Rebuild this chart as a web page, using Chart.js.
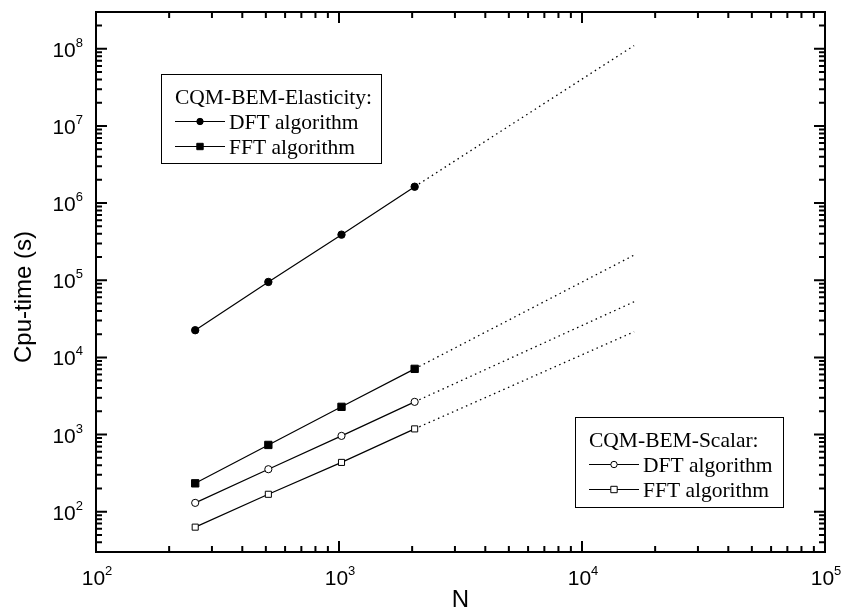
<!DOCTYPE html>
<html>
<head>
<meta charset="utf-8">
<script src="https://cdn.jsdelivr.net/npm/chart.js@4/dist/chart.umd.min.js"></script>
<style>
  html, body { margin: 0; padding: 0; background: #fff; }
  #wrap { width: 844px; height: 612px; }
</style>
</head>
<body>
<div id="wrap"><canvas id="c" width="844" height="612"></canvas></div>
<script>
// Problem sizes N and measured CPU times (seconds)
const sizes = [256, 512, 1024, 2048];
const elasticityDFT = [22500, 95000, 390000, 1630000];
const elasticityFFT = [233, 733, 2285, 7100];
const scalarDFT = [130, 355, 960, 2650];
const scalarFFT = [63, 168, 435, 1183];

// Extrapolated trend from the last measured size
const extrapSizes = [2048, 16384];
const elasticityDFTExt = [1630000, 110000000];
const elasticityFFTExt = [7100, 212000];
const scalarDFTExt = [2650, 52600];
const scalarFFTExt = [1183, 21500];

// Axis ranges and decade labels (powers of ten)
const xRange = [100, 100000];
const yRange = [30, 300000000];
const xTickExponents = [2, 3, 4, 5];
const yTickExponents = [2, 3, 4, 5, 6, 7, 8];
const xTitle = 'N';
const yTitle = 'Cpu-time (s)';

// Legend groups
const legendTitles = ['CQM-BEM-Elasticity:', 'CQM-BEM-Scalar:'];
const legendItems = [['DFT algorithm', 'FFT algorithm'], ['DFT algorithm', 'FFT algorithm']];

const pts = (xs, ys) => xs.map((x, i) => ({ x, y: ys[i] }));

const solid = (label, values, style, filled, radius) => ({
  label,
  data: pts(sizes, values),
  borderColor: '#000',
  borderWidth: 1.2,
  pointStyle: style,
  pointRadius: radius,
  pointHoverRadius: radius,
  pointBackgroundColor: filled ? '#000' : '#fff',
  pointBorderColor: '#000',
  pointBorderWidth: 1,
  tension: 0,
  order: 1
});

const dotted = (values) => ({
  label: '',
  data: pts(extrapSizes, values),
  borderColor: '#000',
  borderWidth: 1.3,
  borderDash: [1.5, 3.6],
  pointRadius: 0,
  pointHoverRadius: 0,
  tension: 0,
  order: 2
});

const SANS = '"Liberation Sans", Arial, sans-serif';
const SERIF = '"Liberation Serif", "Times New Roman", serif';

// Boxed frame with inward ticks on all four sides, decade labels and axis titles
const frameAxes = {
  id: 'frameAxes',
  afterDraw(chart) {
    const { ctx, chartArea: a, scales: { x, y } } = chart;
    ctx.save();
    ctx.strokeStyle = '#000';
    ctx.lineWidth = 2;
    ctx.lineCap = 'butt';
    ctx.strokeRect(a.left, a.top, a.right - a.left, a.bottom - a.top);

    const major = 11, minor = 6;
    ctx.beginPath();
    const eachTick = (scale, cb) => {
      const e0 = Math.floor(Math.log10(scale.min)), e1 = Math.ceil(Math.log10(scale.max));
      for (let e = e0; e <= e1; e++) {
        for (let m = 1; m <= 9; m++) {
          const v = m * Math.pow(10, e);
          if (v < scale.min * 0.999 || v > scale.max * 1.001) continue;
          cb(scale.getPixelForValue(v), m === 1 ? major : minor);
        }
      }
    };
    eachTick(x, (px, len) => {
      ctx.moveTo(px, a.bottom); ctx.lineTo(px, a.bottom - len);
      ctx.moveTo(px, a.top); ctx.lineTo(px, a.top + len);
    });
    eachTick(y, (py, len) => {
      ctx.moveTo(a.left, py); ctx.lineTo(a.left + len, py);
      ctx.moveTo(a.right, py); ctx.lineTo(a.right - len, py);
    });
    ctx.stroke();

    ctx.fillStyle = '#000';
    const baseFont = '21px ' + SANS, expFont = '13px ' + SANS;
    ctx.textAlign = 'left';
    ctx.textBaseline = 'alphabetic';
    xTickExponents.forEach(e => {
      const px = x.getPixelForValue(Math.pow(10, e));
      ctx.font = baseFont; const w1 = ctx.measureText('10').width;
      ctx.font = expFont; const w2 = ctx.measureText(String(e)).width;
      const left = px - (w1 + w2) / 2 + 1;
      ctx.font = baseFont; ctx.fillText('10', left, a.bottom + 33);
      ctx.font = expFont; ctx.fillText(String(e), left + w1, a.bottom + 23);
    });
    yTickExponents.forEach(e => {
      const py = y.getPixelForValue(Math.pow(10, e));
      ctx.font = baseFont; const w1 = ctx.measureText('10').width;
      ctx.font = expFont; const w2 = ctx.measureText(String(e)).width;
      const right = a.left - 13;
      ctx.font = expFont; ctx.fillText(String(e), right - w2, py - 2);
      ctx.font = baseFont; ctx.fillText('10', right - w2 - w1, py + 8);
    });

    ctx.font = '24px ' + SANS;
    ctx.textAlign = 'center';
    ctx.textBaseline = 'middle';
    ctx.fillText(xTitle, (a.left + a.right) / 2, 600);
    ctx.save();
    ctx.translate(24, 297);
    ctx.rotate(-Math.PI / 2);
    ctx.fillText(yTitle, 0, 0);
    ctx.restore();
    ctx.restore();
  }
};

// Two boxed legends, each with a heading line and two series rows
const boxedLegends = {
  id: 'boxedLegends',
  afterDraw(chart, args, opts) {
    const { ctx } = chart;
    const ds = chart.data.datasets;
    opts.boxes.forEach((b, gi) => {
      ctx.save();
      ctx.fillStyle = '#fff';
      ctx.fillRect(b.x, b.y, b.w, b.h);
      ctx.strokeStyle = '#000';
      ctx.lineWidth = 1;
      ctx.strokeRect(b.x + 0.5, b.y + 0.5, b.w, b.h);
      ctx.fillStyle = '#000';
      ctx.font = '21.5px ' + SERIF;
      ctx.textAlign = 'left';
      ctx.textBaseline = 'alphabetic';
      ctx.fillText(legendTitles[gi], b.x + 14, b.y + 30);
      legendItems[gi].forEach((txt, ri) => {
        const d = ds[gi * 2 + ri];
        const base = b.y + 55 + ri * 25;
        const cy = base - 7.5;
        ctx.beginPath();
        ctx.lineWidth = 1;
        ctx.moveTo(b.x + 14, cy); ctx.lineTo(b.x + 64, cy);
        ctx.stroke();
        const mx = b.x + 39;
        ctx.beginPath();
        if (d.pointStyle === 'circle') ctx.arc(mx, cy, 3.2, 0, Math.PI * 2);
        else ctx.rect(mx - 3.2, cy - 3.2, 6.4, 6.4);
        ctx.fillStyle = d.pointBackgroundColor;
        ctx.fill();
        ctx.stroke();
        ctx.fillStyle = '#000';
        ctx.fillText(txt, b.x + 68, base);
      });
      ctx.restore();
    });
  }
};

new Chart(document.getElementById('c'), {
  type: 'line',
  data: {
    datasets: [
      solid(legendItems[0][0], elasticityDFT, 'circle', true, 3.7),
      solid(legendItems[0][1], elasticityFFT, 'rect', true, 5.2),
      solid(legendItems[1][0], scalarDFT, 'circle', false, 3.6),
      solid(legendItems[1][1], scalarFFT, 'rect', false, 4.3),
      dotted(elasticityDFTExt),
      dotted(elasticityFFTExt),
      dotted(scalarDFTExt),
      dotted(scalarFFTExt)
    ]
  },
  options: {
    responsive: false,
    animation: false,
    devicePixelRatio: 1,
    layout: { padding: { top: 12, right: 19, left: 0, bottom: 0 } },
    plugins: {
      legend: { display: false },
      tooltip: { enabled: false },
      boxedLegends: {
        boxes: [
          { x: 161, y: 74, w: 220, h: 89 },
          { x: 575, y: 417, w: 208, h: 90 }
        ]
      }
    },
    scales: {
      x: {
        type: 'logarithmic',
        min: xRange[0], max: xRange[1],
        ticks: { display: false },
        grid: { display: false },
        border: { display: false },
        afterFit: s => { s.height = 60; }
      },
      y: {
        type: 'logarithmic',
        min: yRange[0], max: yRange[1],
        ticks: { display: false },
        grid: { display: false },
        border: { display: false },
        afterFit: s => { s.width = 96; }
      }
    }
  },
  plugins: [frameAxes, boxedLegends]
});
</script>
</body>
</html>
